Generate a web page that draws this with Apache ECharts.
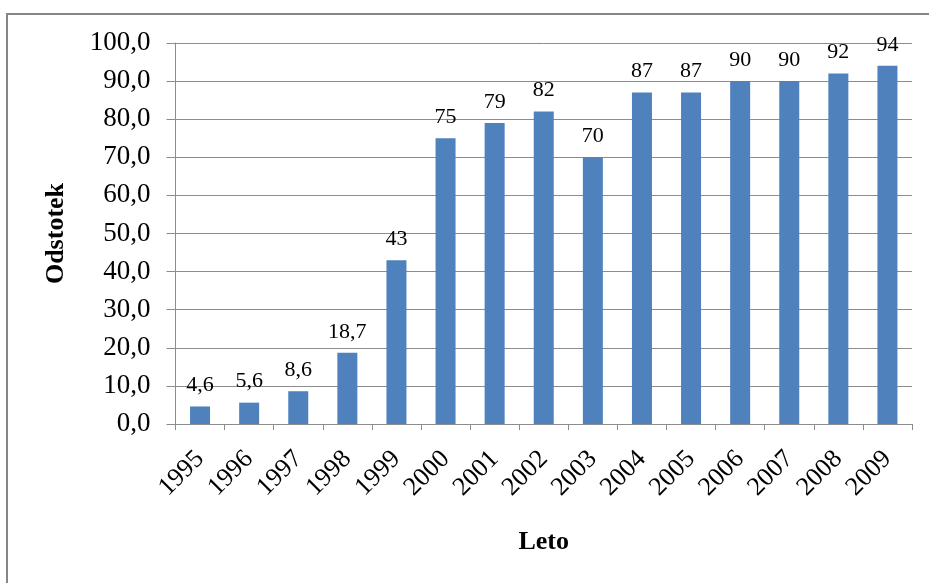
<!DOCTYPE html>
<html>
<head>
<meta charset="utf-8">
<script src="https://cdn.jsdelivr.net/npm/echarts@6/dist/echarts.min.js"></script>
<style>
  html, body { margin: 0; padding: 0; background: #fff; }
  #chart { width: 929px; height: 583px; }
</style>
</head>
<body>
<div id="chart"></div>
<script>
// Years on the category axis
const years = ['1995', '1996', '1997', '1998', '1999', '2000', '2001', '2002',
               '2003', '2004', '2005', '2006', '2007', '2008', '2009'];
// Share per year (percent)
const odstotek = [4.6, 5.6, 8.6, 18.7, 43, 75, 79, 82, 70, 87, 87, 90, 90, 92, 94];

const serif = '"Liberation Serif", "Times New Roman", serif';
const gridGray = '#8c8c8c';
const comma = v => String(v).replace('.', ',');

const chart = echarts.init(document.getElementById('chart'));
chart.setOption({
  animation: false,
  backgroundColor: '#fff',
  graphic: [{
    type: 'rect',
    shape: { x: 7, y: 14, width: 960, height: 620 },
    style: { fill: 'none', stroke: '#868686', lineWidth: 2 },
    silent: true
  }],
  grid: { left: 175.5, right: 17, top: 43, bottom: 159 },
  xAxis: {
    type: 'category',
    data: years,
    name: 'Leto',
    nameLocation: 'middle',
    nameGap: 105,
    nameTextStyle: { fontFamily: serif, fontSize: 26, fontWeight: 'bold', color: '#000' },
    axisLine: { lineStyle: { color: gridGray, width: 1 } },
    axisTick: { show: true, length: 6, lineStyle: { color: gridGray } },
    axisLabel: { rotate: 45, margin: 31, fontFamily: serif, fontSize: 26, color: '#000' }
  },
  yAxis: {
    type: 'value',
    min: 0,
    max: 100,
    interval: 10,
    name: 'Odstotek',
    nameLocation: 'middle',
    nameGap: 106,
    nameRotate: 90,
    nameTextStyle: { fontFamily: serif, fontSize: 26, fontWeight: 'bold', color: '#000' },
    axisLine: { show: true, lineStyle: { color: gridGray, width: 1 } },
    axisTick: { show: true, length: 9, lineStyle: { color: gridGray } },
    splitLine: { lineStyle: { color: gridGray, width: 1 } },
    axisLabel: {
      margin: 25,
      fontFamily: serif, fontSize: 27, color: '#000',
      formatter: v => v.toFixed(1).replace('.', ',')
    }
  },
  series: [{
    type: 'bar',
    data: odstotek,
    barWidth: 20,
    itemStyle: { color: '#4F81BD' },
    label: {
      show: true,
      position: 'top',
      distance: 10,
      fontFamily: serif,
      fontSize: 22,
      color: '#000',
      formatter: p => comma(p.value)
    }
  }]
});
</script>
</body>
</html>
